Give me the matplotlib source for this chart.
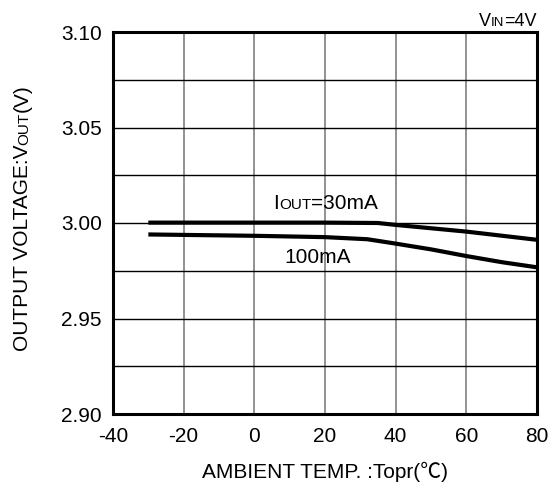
import matplotlib
matplotlib.use("Agg")
import matplotlib.pyplot as plt

plt.rcParams['font.family'] = ['Liberation Sans', 'Noto Sans CJK JP', 'DejaVu Sans']

# data
temp_30 = [-30, 0, 20, 35, 40, 60, 80]
vout_30 = [3.0002, 3.0002, 3.0002, 3.0000, 2.9990, 2.9955, 2.9912]
temp_100 = [-30, 0, 20, 32, 39, 50, 60, 70, 80]
vout_100 = [2.9940, 2.9933, 2.9926, 2.9915, 2.9895, 2.9862, 2.9827, 2.9795, 2.9768]
x_ticks = [-40, -20, 0, 20, 40, 60, 80]
y_ticks = [2.90, 2.95, 3.00, 3.05, 3.10]
y_minor = [2.925, 2.975, 3.025, 3.075]

W, H = 548, 488
fig = plt.figure(figsize=(W / 100, H / 100), dpi=100)
ax = fig.add_axes([113 / W, 1 - 414 / H, (537 - 113) / W, (414 - 32) / H])

ax.set_xlim(-40, 80)
ax.set_ylim(2.90, 3.10)
ax.set_xticks(x_ticks)
ax.set_xticklabels([str(v) for v in x_ticks])
ax.set_yticks(y_ticks)
ax.set_yticklabels([f"{v:.2f}" for v in y_ticks])
ax.tick_params(length=0, labelsize=15)
ax.tick_params(axis='x', pad=9)
ax.tick_params(axis='y', pad=8)

for xv in x_ticks[1:-1]:
    ax.axvline(xv, color='#7f7f7f', lw=1.2, zorder=1)
for yv in y_ticks[1:-1] + y_minor:
    ax.axhline(yv, color='black', lw=1.0, zorder=1)

for s in ax.spines.values():
    s.set_linewidth(2.2)

ax.plot(temp_30, vout_30, color='black', lw=3.0, zorder=3, solid_capstyle='butt')
ax.plot(temp_100, vout_100, color='black', lw=3.0, zorder=3, solid_capstyle='butt')

renderer = fig.canvas.get_renderer()


def mixed(x, y, parts, rotation=0, ha='left'):
    """Place multi-size text; x, y in pixels from top-left (baseline)."""
    widths = []
    for txt, fs in parts:
        t = fig.text(0, 0, txt, fontsize=fs)
        widths.append(t.get_window_extent(renderer).width)
        t.remove()
    total = sum(widths)
    if ha == 'center':
        start = -total / 2
    elif ha == 'right':
        start = -total
    else:
        start = 0
    off = start
    for (txt, fs), w in zip(parts, widths):
        if rotation == 0:
            fig.text((x + off) / W, (H - y) / H, txt, fontsize=fs,
                     ha='left', va='baseline')
        else:
            fig.text(x / W, (H - y + off) / H, txt, fontsize=fs, rotation=90,
                     rotation_mode='anchor', ha='left', va='baseline')
        off += w


mixed(273, 209, [("I", 15), ("OUT", 11), ("=30mA", 15)])
mixed(318, 263, [("100mA", 15)], ha='center')
mixed(537, 26, [("V", 13), ("IN", 9.5), ("=4V", 13)], ha='right')
mixed(325, 478, [("AMBIENT TEMP. :Topr(℃)", 15)], ha='center')
mixed(28, 218, [("OUTPUT VOLTAGE:V", 15), ("OUT", 11), ("(V)", 15)],
      rotation=90, ha='center')

fig.savefig("out.png", dpi=100)
